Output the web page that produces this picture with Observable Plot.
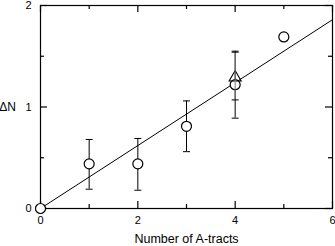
<!DOCTYPE html>
<html>
<head>
<meta charset="utf-8">
<script src="https://cdn.jsdelivr.net/npm/d3@7"></script>
<script src="https://cdn.jsdelivr.net/npm/@observablehq/plot@0.6"></script>
<style>
  html, body { margin: 0; padding: 0; background: #fff; }
</style>
</head>
<body>
<div id="chart"></div>
<script>
// Circles: ΔN vs number of A-tracts
const tracts = [0, 1, 2, 3, 4, 5];
const deltaN = [0, 0.44, 0.44, 0.81, 1.22, 1.69];
const errLow = [null, 0.19, 0.18, 0.56, 0.89, null];
const errHigh = [null, 0.68, 0.69, 1.06, 1.55, null];

// Triangle point
const triX = [4];
const triY = [1.29];
const triLow = [1.07];
const triHigh = [1.54];

// Fit line
const fitX = [0, 6];
const fitY = [0, 1.86];

// Tick values
const xMajor = [0, 2, 4, 6];
const xMinor = [1, 3, 5];
const yMajor = [0, 1, 2];
const yMinor = [0.5, 1.5];

const circles = tracts.map((x, i) => ({x, y: deltaN[i], lo: errLow[i], hi: errHigh[i]}));
const bars = circles.filter(d => d.lo != null);
const tri = triX.map((x, i) => ({x, y: triY[i], lo: triLow[i], hi: triHigh[i]}));
const fit = fitX.map((x, i) => ({x, y: fitY[i]}));

const capSymbol = {
  draw(context, size) {
    const r = Math.sqrt(size / Math.PI);
    context.moveTo(-r, 0);
    context.lineTo(r, 0);
  }
};

const W = 335, H = 246, ML = 40, MR = 3, MT = 5, MB = 38;
const FW = W - ML - MR, FH = H - MT - MB;
const MAJ = 7, MIN = 4;
const intFmt = d3.format("d");
const tk = {stroke: "#000", strokeWidth: 1.2};

const chart = Plot.plot({
  width: W,
  height: H,
  marginLeft: ML,
  marginRight: MR,
  marginTop: MT,
  marginBottom: MB,
  style: {fontFamily: "'Liberation Sans', Arial, sans-serif", fontSize: "11px", color: "#000", background: "#fff"},
  x: {domain: [0, 6]},
  y: {domain: [0, 2]},
  marks: [
    Plot.frame({stroke: "#000", strokeWidth: 1.2}),
    // inward ticks on all four sides
    Plot.ruleX(xMajor, {x: d => d, insetTop: FH - MAJ, ...tk}),
    Plot.ruleX(xMinor, {x: d => d, insetTop: FH - MIN, ...tk}),
    Plot.ruleX(xMajor, {x: d => d, insetBottom: FH - MAJ, ...tk}),
    Plot.ruleX(xMinor, {x: d => d, insetBottom: FH - MIN, ...tk}),
    Plot.ruleY(yMajor, {y: d => d, insetRight: FW - MAJ, ...tk}),
    Plot.ruleY(yMinor, {y: d => d, insetRight: FW - MIN, ...tk}),
    Plot.ruleY(yMajor, {y: d => d, insetLeft: FW - MAJ, ...tk}),
    Plot.ruleY(yMinor, {y: d => d, insetLeft: FW - MIN, ...tk}),
    // tick labels
    Plot.axisX({ticks: xMajor, anchor: "bottom", tickSize: 0, tickPadding: 8, tickFormat: intFmt, label: null}),
    Plot.axisY({ticks: yMajor, anchor: "left", tickSize: 0, tickPadding: 9, tickFormat: intFmt, label: null}),
    // fit line
    Plot.line(fit, {x: "x", y: "y", stroke: "#000", strokeWidth: 1}),
    // circle error bars
    Plot.ruleX(bars, {x: "x", y1: "lo", y2: "hi", stroke: "#000", strokeWidth: 1}),
    Plot.dot(bars, {x: "x", y: "lo", symbol: capSymbol, r: 3.5, stroke: "#000", strokeWidth: 1}),
    Plot.dot(bars, {x: "x", y: "hi", symbol: capSymbol, r: 3.5, stroke: "#000", strokeWidth: 1}),
    // circles
    Plot.dot(circles, {x: "x", y: "y", r: 5, fill: "#fff", stroke: "#000", strokeWidth: 1.2}),
    // triangle and its error bar
    Plot.dot(tri, {x: "x", y: "y", symbol: "triangle", r: 4.5, fill: "none", stroke: "#000", strokeWidth: 1.1}),
    Plot.ruleX(tri, {x: "x", y1: "lo", y2: "hi", stroke: "#777", strokeWidth: 1}),
    Plot.dot(tri, {x: "x", y: "lo", symbol: capSymbol, r: 3.5, stroke: "#000", strokeWidth: 1}),
    Plot.dot(tri, {x: "x", y: "hi", symbol: capSymbol, r: 3.5, stroke: "#000", strokeWidth: 1}),
    // axis titles
    Plot.text(["ΔN"], {frameAnchor: "left", dx: -33, textAnchor: "middle", fontSize: 12}),
    Plot.text(["Number of A-tracts"], {frameAnchor: "bottom", dy: 30, lineAnchor: "middle", fontSize: 12.5})
  ]
});

document.getElementById("chart").appendChild(chart);
</script>
</body>
</html>
